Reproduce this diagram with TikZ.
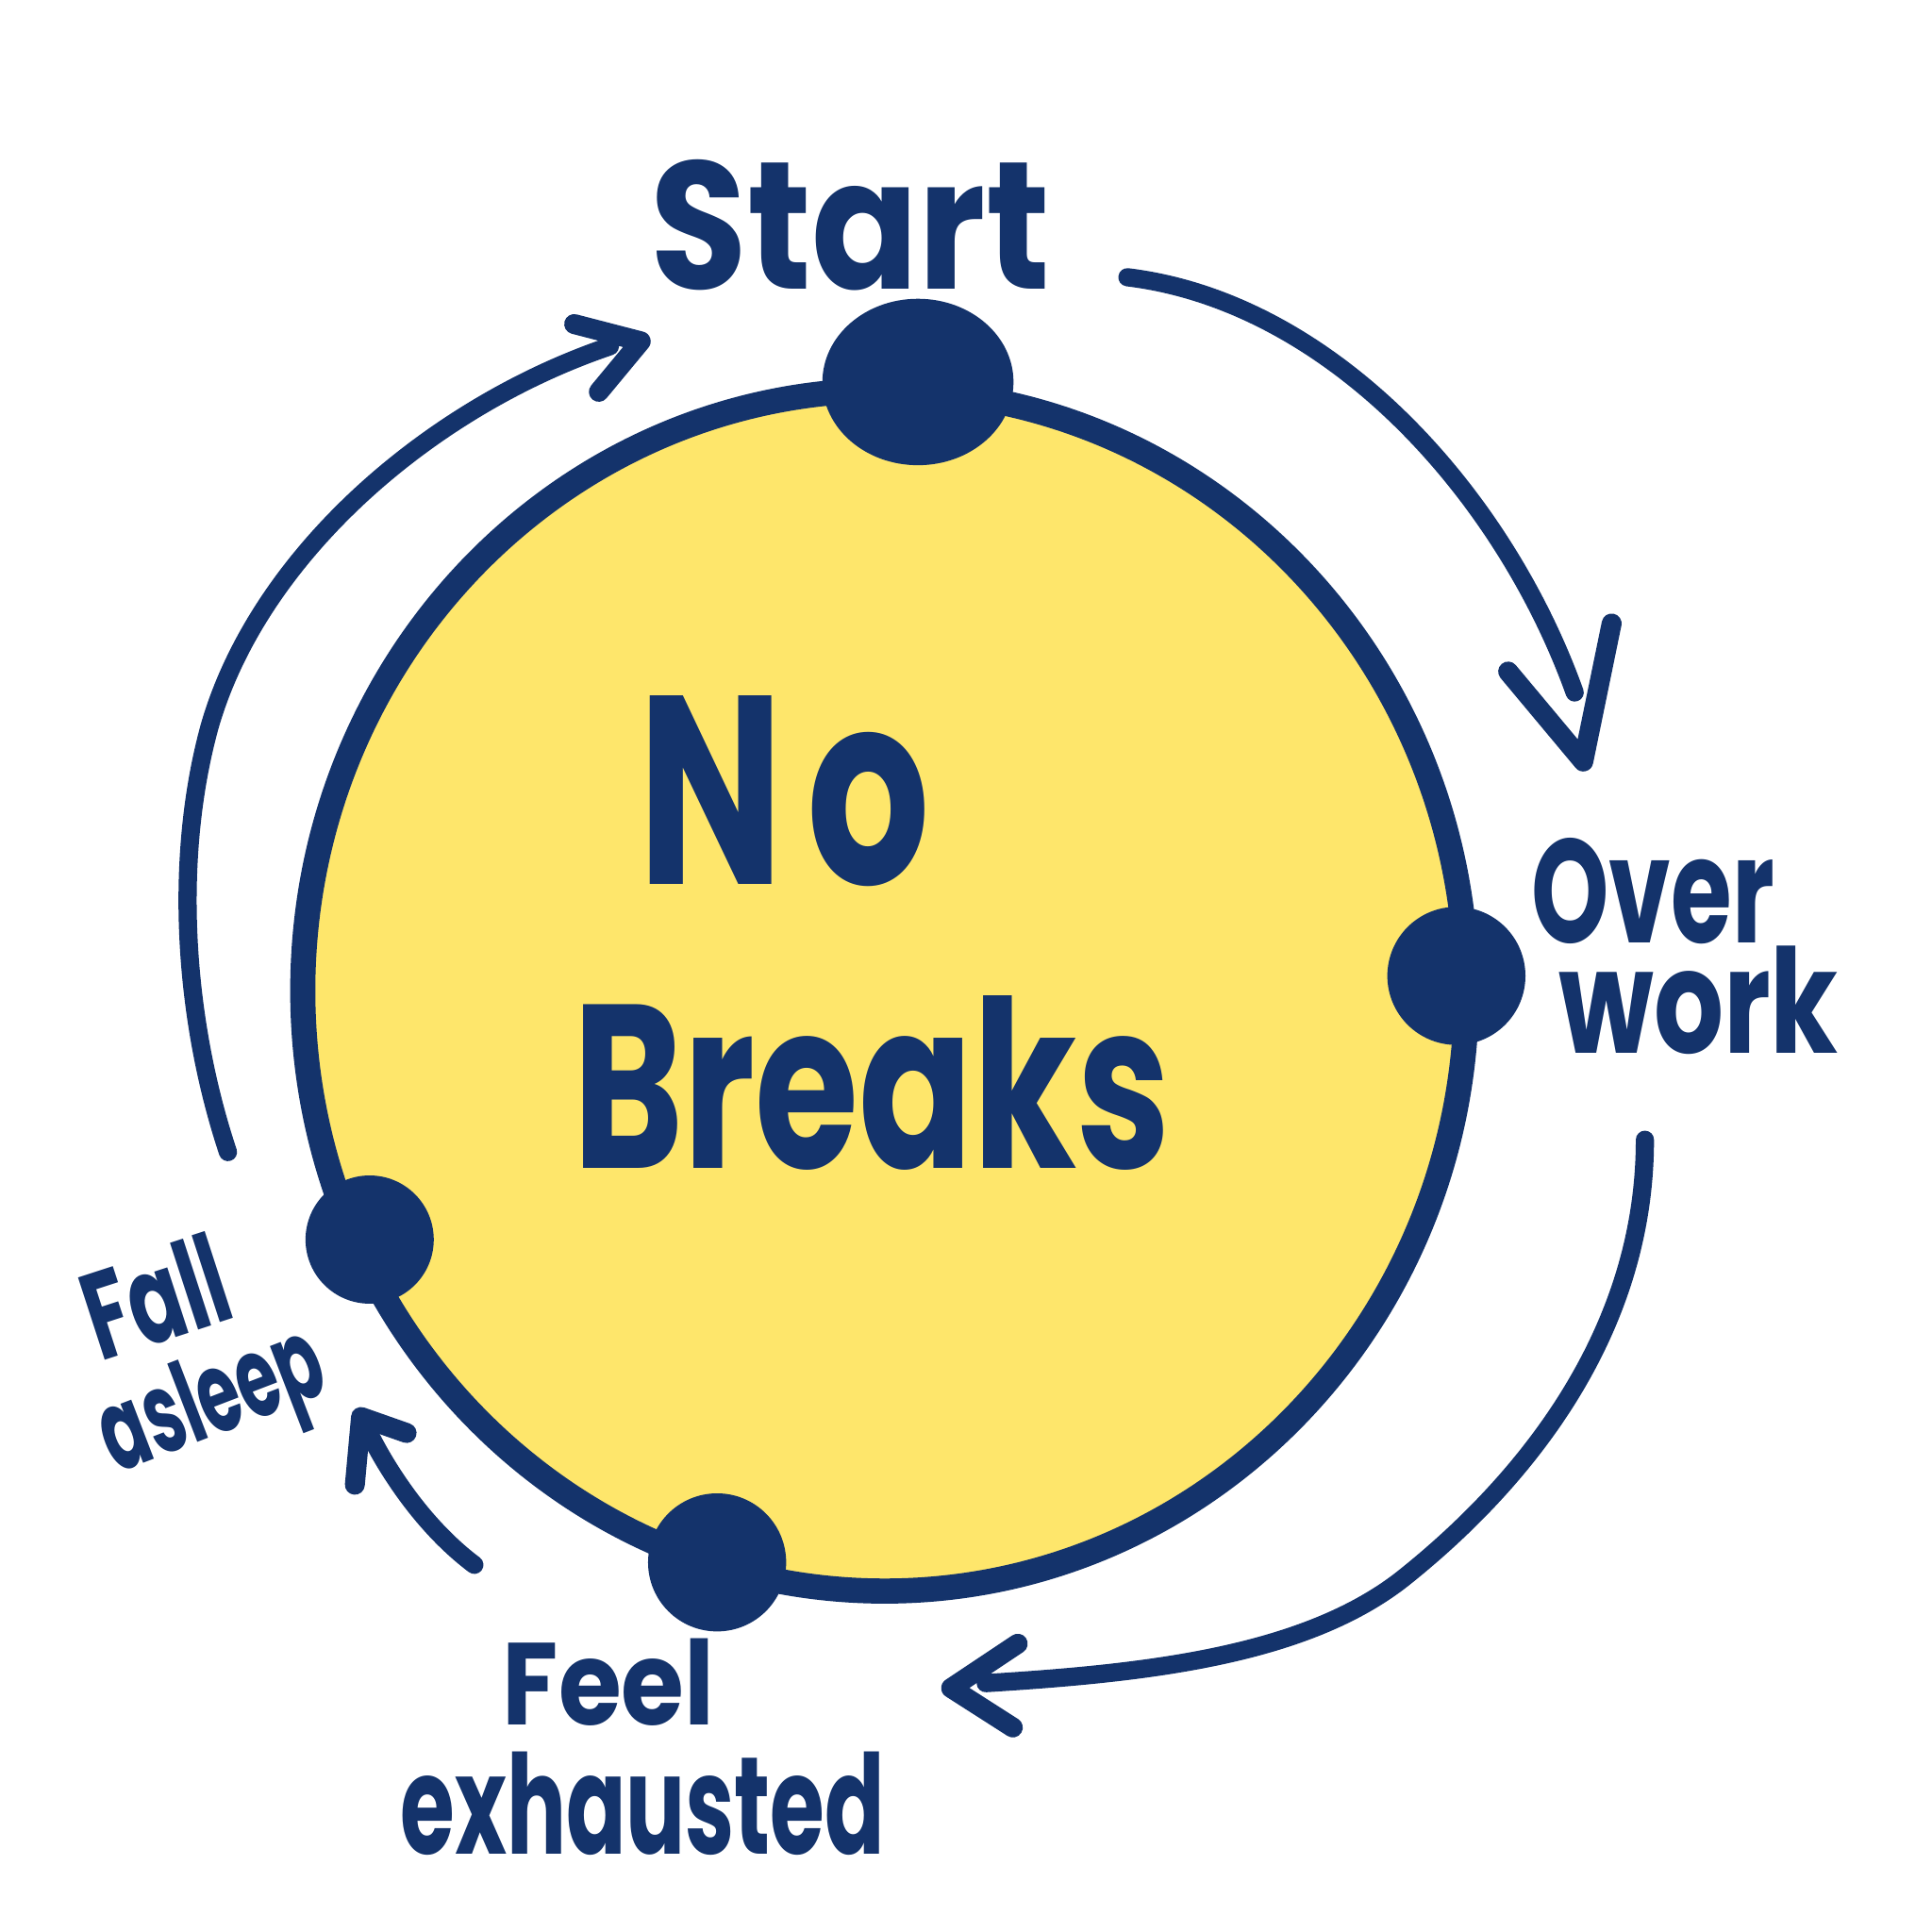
\documentclass[tikz,border=0pt]{standalone}
\usepackage{fontspec}
\usepackage{graphicx}
\setmainfont{Poppins}
\usetikzlibrary{shapes.geometric}
\definecolor{navy}{HTML}{14336B}
\definecolor{sun}{HTML}{FEE66B}
\newcommand\lblfont{\bfseries\fontsize{40}{48}\selectfont}
\newsavebox\lblbox
\AtBeginDocument{%
  \sbox\lblbox{\lblfont Fall}%
  \pgfmathsetmacro\fallx{1.18cm/\the\wd\lblbox}%
  \pgfmathsetmacro\fally{0.74cm/\the\ht\lblbox}%
  \sbox\lblbox{\lblfont asleep}%
  \pgfmathsetmacro\sleepx{1.88cm/\the\wd\lblbox}%
  \pgfmathsetmacro\sleepy{0.68cm/\the\ht\lblbox}%
}
\begin{document}
\begin{tikzpicture}[x=0.01cm,y=-0.01cm,
  shaft/.style={draw=navy,line width=4.2pt,line cap=round,line join=round},
  barb/.style={draw=navy,line width=4.6pt,line cap=round,line join=round},
  dot/.style={circle,fill=navy,inner sep=0pt},
  lbl/.style={text=navy,font=\lblfont,inner sep=0pt,outer sep=0pt}]
\useasboundingbox[fill=white] (0,0) rectangle (1568,1568);
% ring
\node[ellipse,draw=navy,fill=sun,line width=5.8pt,minimum width=9.44cm,minimum height=9.74cm,inner sep=0pt] (ring) at (718,804) {};
% dots
\node[dot,ellipse,minimum width=1.55cm,minimum height=1.35cm] (d1) at (745,310) {};
\node[dot,minimum size=1.12cm] (d2) at (1182,792) {};
\node[dot,minimum size=1.12cm] (d3) at (582,1268) {};
\node[dot,minimum size=1.04cm] (d4) at (300,1006) {};
% labels
\node[lbl,anchor=base west] (start) at (528,235) {\resizebox{3.24cm}{1.05cm}{Start}};
\node[lbl,anchor=base west] (no) at (518,718) {\resizebox{2.37cm}{1.53cm}{N\hspace{0.12em}o}};
\node[lbl,anchor=base west] (breaks) at (465,948) {\resizebox{4.85cm}{1.40cm}{Breaks}};
\node[lbl,anchor=base west] (over) at (1243,765) {\resizebox{1.97cm}{0.85cm}{Over}};
\node[lbl,anchor=base west] (work) at (1265,855) {\resizebox{2.27cm}{0.87cm}{work}};
\node[lbl,anchor=base west] (feel) at (408,1400) {\resizebox{1.72cm}{0.70cm}{Feel}};
\node[lbl,anchor=base west] (exh) at (325,1505) {\resizebox{3.93cm}{0.83cm}{exhausted}};
\node[lbl,rotate=18,xscale=\fallx,yscale=\fally,transform shape] (fall) at (126,1052) {Fall};
\node[lbl,rotate=21,xscale=\sleepx,yscale=\sleepy,transform shape] (asleep) at (174,1142) {asleep};
% arrow coordinates
\coordinate (a1s) at (915,225);  \coordinate (a1e) at (1278,562);
\coordinate (a1t) at (1285,618); \coordinate (a1l) at (1224,545); \coordinate (a1r) at (1308,506);
\coordinate (a2s) at (1335,925); \coordinate (a2m) at (1140,1280); \coordinate (a2e) at (800,1366);
\coordinate (a2t) at (772,1370); \coordinate (a2u) at (826,1334); \coordinate (a2d) at (822,1402);
\coordinate (a3s) at (385,1270); \coordinate (a3e) at (298,1160);
\coordinate (a3t) at (293,1150); \coordinate (a3b) at (288,1205); \coordinate (a3r) at (330,1163);
\coordinate (a4s) at (185,935);  \coordinate (a4m) at (170,590); \coordinate (a4e) at (495,281);
\coordinate (a4t) at (520,277);  \coordinate (a4u) at (466,263); \coordinate (a4d) at (486,318);
% arrows
\draw[shaft] (a1s) .. controls (1080,245) and (1220,400) .. (a1e);
\draw[barb] (a1l) -- (a1t) -- (a1r);
\draw[shaft] (a2s) .. controls (1335,1080) and (1240,1200) .. (a2m) .. controls (1060,1344) and (930,1358) .. (a2e);
\draw[barb] (a2u) -- (a2t) -- (a2d);
\draw[shaft] (a3s) .. controls (345,1240) and (315,1195) .. (a3e);
\draw[barb] (a3b) -- (a3t) -- (a3r);
\draw[shaft] (a4s) .. controls (150,830) and (140,700) .. (a4m) .. controls (210,450) and (350,330) .. (a4e);
\draw[barb] (a4u) -- (a4t) -- (a4d);
\end{tikzpicture}
\end{document}
